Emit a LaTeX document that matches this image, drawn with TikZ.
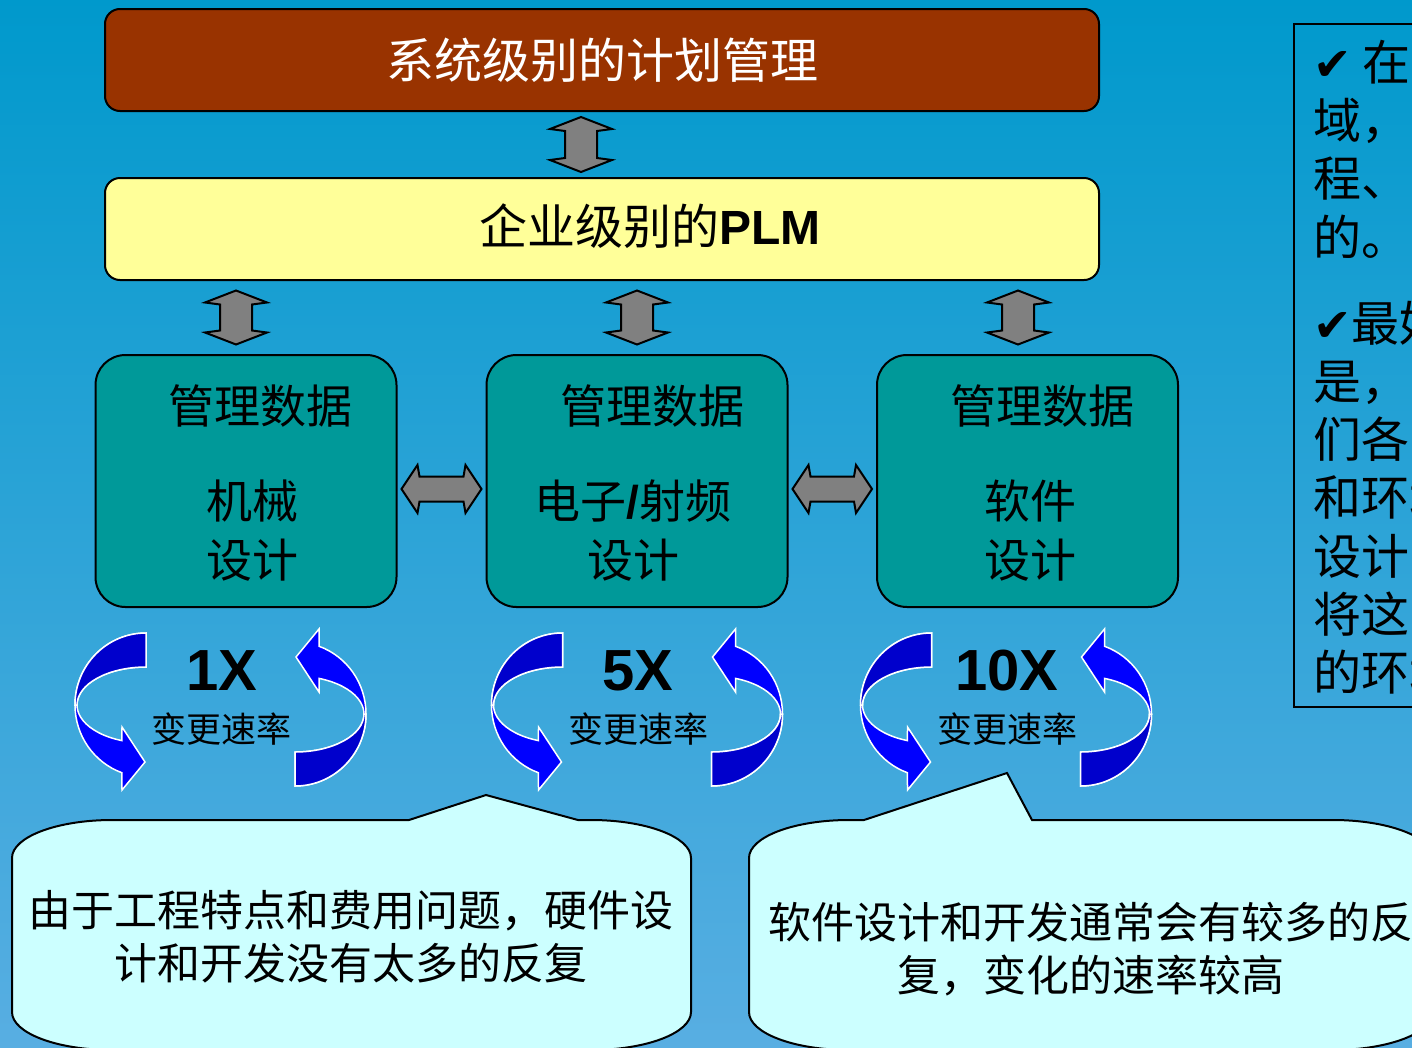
\documentclass[tikz,border=0pt]{standalone}
\usepackage{fontspec}
\setmainfont{Noto Sans CJK SC}
\newfontfamily\arialfont{Liberation Sans}
\newfontfamily\symfont{DejaVu Sans}
\usetikzlibrary{calc}

\definecolor{sysred}{HTML}{993300}
\definecolor{plmyellow}{HTML}{FFFF99}
\definecolor{designteal}{HTML}{009999}
\definecolor{notecyan}{HTML}{CCFFFF}
\definecolor{loopblue}{HTML}{0000FF}
\definecolor{loopdark}{HTML}{0000CC}
\definecolor{bgtop}{HTML}{0099CC}
\definecolor{bgbottom}{HTML}{58AEE2}

\newcommand\fsz[2]{\fontsize{#1}{#2}\selectfont}

\pgfkeys{%
  /greyarrow/.cd,
  gap/.store in         =\gagap,
  head length/.store in =\gahead,
  head width/.store in  =\gahw,% half of it
  shaft width/.store in =\gasw,% half of it
  gap=5pt, head length=12pt, head width=31pt, shaft width=16pt,
}

% fat grey double arrow between two points
\newcommand\greyarrow[3][]{%
  \begingroup
  \pgfkeys{/greyarrow/.cd,#1}%
  \coordinate (ga-s) at (#2);
  \coordinate (ga-e) at (#3);
  \draw[blockarrow]
    ($(ga-s)!\gagap!(ga-e)$)
    -- ($(ga-s)!\gagap+\gahead!(ga-e)!\gahw!90:(ga-e)$)
    -- ($(ga-s)!\gagap+\gahead+2pt!(ga-e)!\gasw!90:(ga-e)$)
    -- ($(ga-e)!\gagap+\gahead+2pt!(ga-s)!\gasw!-90:(ga-s)$)
    -- ($(ga-e)!\gagap+\gahead!(ga-s)!\gahw!-90:(ga-s)$)
    -- ($(ga-e)!\gagap!(ga-s)$)
    -- ($(ga-e)!\gagap+\gahead!(ga-s)!\gahw!90:(ga-s)$)
    -- ($(ga-e)!\gagap+\gahead+2pt!(ga-s)!\gasw!90:(ga-s)$)
    -- ($(ga-s)!\gagap+\gahead+2pt!(ga-e)!\gasw!-90:(ga-e)$)
    -- ($(ga-s)!\gagap+\gahead!(ga-e)!\gahw!-90:(ga-e)$)
    -- cycle;
  \endgroup
}

\tikzset{
  loopfront/.style={fill=loopblue, draw=white, line width=1.5pt},
  loopback/.style={fill=loopdark, draw=white, line width=1.5pt},
  rateloop/.pic={
    \foreach \r in {0,180}{
      \begin{scope}[rotate=\r]
        \path[loopfront] (-74.5,76.5)
          arc[start angle=90, end angle=250.2, x radius=71, y radius=72]
          -- (-98.5,-80.5) -- (-75.5,-52.5) -- (-98.5,-17.5) -- (-98.55,-31.1)
          arc[start angle=249.6, end angle=90, x radius=69, y radius=38] -- cycle;
        \path[loopback] (-74.5,76.5)
          arc[start angle=90, end angle=180, x radius=71, y radius=72]
          -- (-143.5,4.5)
          arc[start angle=180, end angle=90, x radius=69, y radius=38] -- cycle;
      \end{scope}
    }
  }
}

\begin{document}
\begin{tikzpicture}[x=1pt, y=1pt,
    sysbox/.style={draw=black, line width=2pt, fill=sysred, rounded corners=15pt,
      minimum width=994pt, minimum height=102pt, inner sep=0pt,
      text=white, font=\fsz{48}{58}},
    plmbox/.style={draw=black, line width=2pt, fill=plmyellow, rounded corners=15pt,
      minimum width=994pt, minimum height=102pt, inner sep=0pt},
    designbox/.style={draw=black, line width=2pt, fill=designteal, rounded corners=30pt,
      minimum width=301pt, minimum height=252pt, inner sep=0pt},
    bigtext/.style={inner sep=0pt, font=\fsz{48}{58}},
    designtext/.style={inner sep=0pt, align=center, font=\fsz{46}{59}},
    blockarrow/.style={draw=black, line width=2pt, fill=black!50, line join=miter},
    ratenum/.style={inner sep=0pt, font=\arialfont\bfseries\fsz{58}{60}},
    ratelabel/.style={inner sep=0pt, font=\fsz{35}{40}},
    callout/.style={draw=black, line width=2pt, fill=notecyan},
    callouttext/.style={inner sep=0pt, align=center, font=\fsz{43}{53}},
    notetext/.style={inner sep=0pt, align=left, font=\fsz{48}{58.2}},
  ]
  \useasboundingbox (0,0) rectangle (1412,-1047);
  \clip (0,0) rectangle (1412,-1047);
  \shade[top color=bgtop, bottom color=bgbottom] (0,0) rectangle (1412,-1047);

  % the three levels
  \node[sysbox] (sys) at (602,-60) {系统级别的计划管理};
  \node[plmbox] (plm) at (602,-229) {};
  \node[bigtext] (plmT) at (650,-226) {企业级别的{\arialfont\bfseries PLM}};

  \node[designbox] (mech) at (246,-481) {};
  \node[designbox] (elec) at (637,-481) {};
  \node[designbox] (soft) at (1027.5,-481) {};

  \node[designtext] (mechT) at (260,-406) {管理数据};
  \node[designtext] (mechL) at (252,-531) {机械\\设计};
  \node[designtext] (elecT) at (652,-406) {管理数据};
  \node[designtext] (elecL) at (633,-531) {电子{\arialfont\bfseries /}射频\\设计};
  \node[designtext] (softT) at (1042,-406) {管理数据};
  \node[designtext] (softL) at (1030,-531) {软件\\设计};

  % grey arrows
  \greyarrow{[xshift=-21]sys.south}{[xshift=-21]plm.north}
  \coordinate (mech-in) at ([xshift=-10]mech.north);
  \coordinate (elec-in) at (elec.north);
  \coordinate (soft-in) at ([xshift=-9.5]soft.north);
  \foreach \n in {mech-in,elec-in,soft-in}
    \greyarrow[gap=9.5pt]{plm.south -| \n}{\n};
  \greyarrow[gap=4pt, head length=16pt, head width=24pt, shaft width=12.5pt]
    {[yshift=-8]mech.east}{[yshift=-8]elec.west}
  \greyarrow[gap=4pt, head length=16pt, head width=24pt, shaft width=12.5pt]
    {[yshift=-8]elec.east}{[yshift=-8]soft.west}

  % change rates
  \foreach \cx/\rate/\n in {220.5/1X/1, 637/5X/2, 1006/10X/3}
  {
    \pic (loop\n) at (\cx,-709.5) {rateloop};
    \node[ratenum] (rate\n) at (\cx+1,-671) {\rate};
    \node[ratelabel] (rateL\n) at (\cx+1,-729) {变更速率};
  }

  % callouts
  \draw[callout] (112,-820) -- (409,-820) -- (486,-795) -- (578,-820) -- (591,-820)
    arc[start angle=90, end angle=0, x radius=100, y radius=38]
    -- (691,-1012) arc[start angle=0, end angle=-90, x radius=100, y radius=38]
    -- (112,-1050) arc[start angle=270, end angle=180, x radius=100, y radius=38]
    -- (12,-858) arc[start angle=180, end angle=90, x radius=100, y radius=38] -- cycle;
  \node[callouttext] (hwT) at (351,-937) {由于工程特点和费用问题，硬件设\\计和开发没有太多的反复};

  \draw[callout] (849,-820) -- (864,-820) -- (1007,-773) -- (1032,-820) -- (1333,-820)
    arc[start angle=90, end angle=0, x radius=100, y radius=38]
    -- (1433,-1012) arc[start angle=0, end angle=-90, x radius=100, y radius=38]
    -- (849,-1050) arc[start angle=270, end angle=180, x radius=100, y radius=38]
    -- (749,-858) arc[start angle=180, end angle=90, x radius=100, y radius=38] -- cycle;
  \node[callouttext] (swT) at (1091,-949) {软件设计和开发通常会有较多的反\\复，变化的速率较高};

  % side note
  \draw[line width=1.5pt] (1294,-24) rectangle (1440,-707);
  \node[notetext, anchor=north west] (note) at (1313,-40)
    {{\symfont\fsz{46}{58}✔} 在\\域，\\程、\\的。\\[28pt]
     {\symfont\fsz{46}{58}✔}最好\\是，\\们各\\和环境\\设计\\将这\\的环境};
\end{tikzpicture}
\end{document}
